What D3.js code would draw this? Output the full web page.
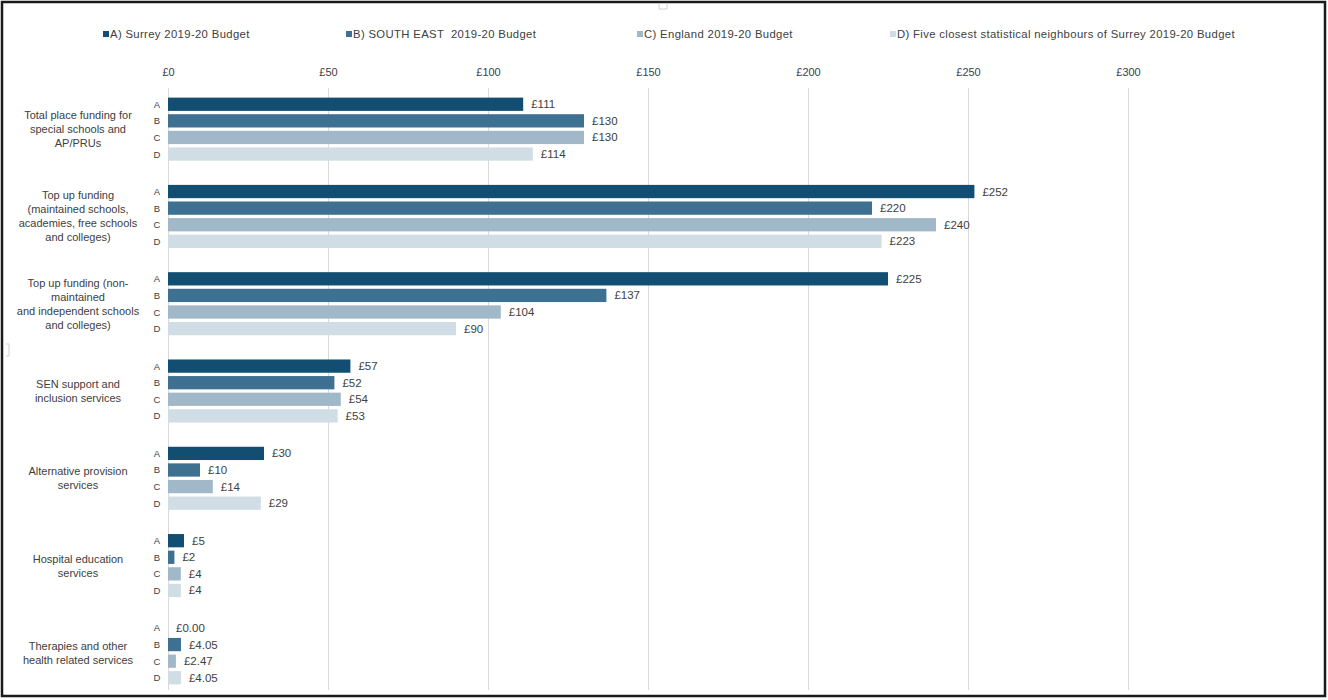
<!DOCTYPE html>
<html>
<head>
<meta charset="utf-8">
<script src="https://cdn.jsdelivr.net/npm/d3@7"></script>
<style>
  body { margin: 0; background: #fff; }
  svg text { font-family: "Liberation Sans", Arial, sans-serif; fill: #404040; }
</style>
</head>
<body>
<div id="chart"></div>
<script>
// chart data
const categories = [
  ['Total place funding for', 'special schools and', 'AP/PRUs'],
  ['Top up funding', '(maintained schools,', 'academies, free schools', 'and colleges)'],
  ['Top up funding (non-', 'maintained', 'and independent schools', 'and colleges)'],
  ['SEN support and', 'inclusion services'],
  ['Alternative provision', 'services'],
  ['Hospital education', 'services'],
  ['Therapies and other', 'health related services'],
];
const seriesKeys = ['A', 'B', 'C', 'D'];
const seriesNames = [
  'A) Surrey 2019-20 Budget',
  'B) SOUTH EAST  2019-20 Budget',
  'C) England 2019-20 Budget',
  'D) Five closest statistical neighbours of Surrey 2019-20 Budget',
];
const surrey = [111, 252, 225, 57, 30, 5, 0];
const southEast = [130, 220, 137, 52, 10, 2, 4.05];
const england = [130, 240, 104, 54, 14, 4, 2.47];
const neighbours = [114, 223, 90, 53, 29, 4, 4.05];
const labelDecimals = [0, 0, 0, 0, 0, 0, 2];
const xTicks = [0, 50, 100, 150, 200, 250, 300];
const colors = ['#124e72', '#3e7091', '#a1b8c9', '#d0dde5'];

const seriesValues = [surrey, southEast, england, neighbours];

const width = 1328, height = 700;
const svg = d3.select('#chart').append('svg')
  .attr('width', width)
  .attr('height', height);

svg.append('rect')
  .attr('x', 0).attr('y', 0).attr('width', width).attr('height', height)
  .attr('fill', '#fff');

// frame
svg.append('rect')
  .attr('x', 2).attr('y', 2).attr('width', 1323).attr('height', 694)
  .attr('fill', 'none').attr('stroke', '#1a1a1a').attr('stroke-width', 2.5);

// little selection handles left over in the screenshot
svg.append('path')
  .attr('d', 'M659,3V9H667V3 M6,344H9V356H6')
  .attr('fill', 'none').attr('stroke', '#d0d0d0').attr('stroke-width', 1);

const x = d3.scaleLinear().domain([0, 300]).range([168, 1128]);
const y0 = d3.scaleBand().domain(d3.range(categories.length)).range([85.5, 696.5]);
const y1 = d3.scaleBand().domain(seriesKeys).range([0, y0.bandwidth()])
  .paddingInner(0.2).paddingOuter(0.73);

// gridlines + tick labels
const xAxis = svg.append('g')
  .attr('transform', 'translate(0,88)')
  .call(d3.axisTop(x).tickValues(xTicks).tickSize(0).tickPadding(12)
    .tickFormat(d => '£' + d));
xAxis.select('.domain').remove();
xAxis.selectAll('text').style('font-size', '11px').attr('fill', '#404040');
xAxis.selectAll('.tick').append('line')
  .attr('y1', 0).attr('y2', 602)
  .attr('stroke', '#d9d9d9').attr('stroke-width', 1);

// legend
const legendX = [103, 346, 637, 890];
const legend = svg.append('g');
seriesNames.forEach((name, i) => {
  legend.append('rect')
    .attr('x', legendX[i]).attr('y', 31)
    .attr('width', 6).attr('height', 6)
    .attr('fill', colors[i]);
  legend.append('text')
    .attr('x', legendX[i] + 7).attr('y', 38)
    .attr('xml:space', 'preserve')
    .style('white-space', 'pre')
    .style('font-size', '11.3px')
    .style('letter-spacing', '0.35px')
    .text(name);
});

// groups
const groups = svg.append('g').selectAll('g')
  .data(categories)
  .join('g')
  .attr('transform', (d, i) => `translate(0,${y0(i)})`);

groups.each(function (lines, ci) {
  const g = d3.select(this);
  const mid = y0.bandwidth() / 2;
  const lh = 14;
  g.append('text')
    .attr('text-anchor', 'middle')
    .style('font-size', '11px')
    .selectAll('tspan')
    .data(lines)
    .join('tspan')
    .attr('x', 78)
    .attr('y', (d, k) => mid + (k - (lines.length - 1) / 2) * lh + 4)
    .text(d => d);

  seriesKeys.forEach((key, si) => {
    const v = seriesValues[si][ci];
    const yy = y1(key);
    g.append('text')
      .attr('x', 157)
      .attr('y', yy + y1.bandwidth() / 2 + 3.5)
      .attr('text-anchor', 'middle')
      .style('font-size', '9.5px')
      .text(key);
    if (v > 0) {
      g.append('rect')
        .attr('x', x(0))
        .attr('y', yy)
        .attr('width', x(v) - x(0))
        .attr('height', y1.bandwidth())
        .attr('fill', colors[si]);
    }
    g.append('text')
      .attr('x', x(v) + 8)
      .attr('y', yy + y1.bandwidth() / 2 + 4)
      .style('font-size', '11.5px')
      .text('£' + d3.format(`.${labelDecimals[ci]}f`)(v));
  });
});
</script>
</body>
</html>
